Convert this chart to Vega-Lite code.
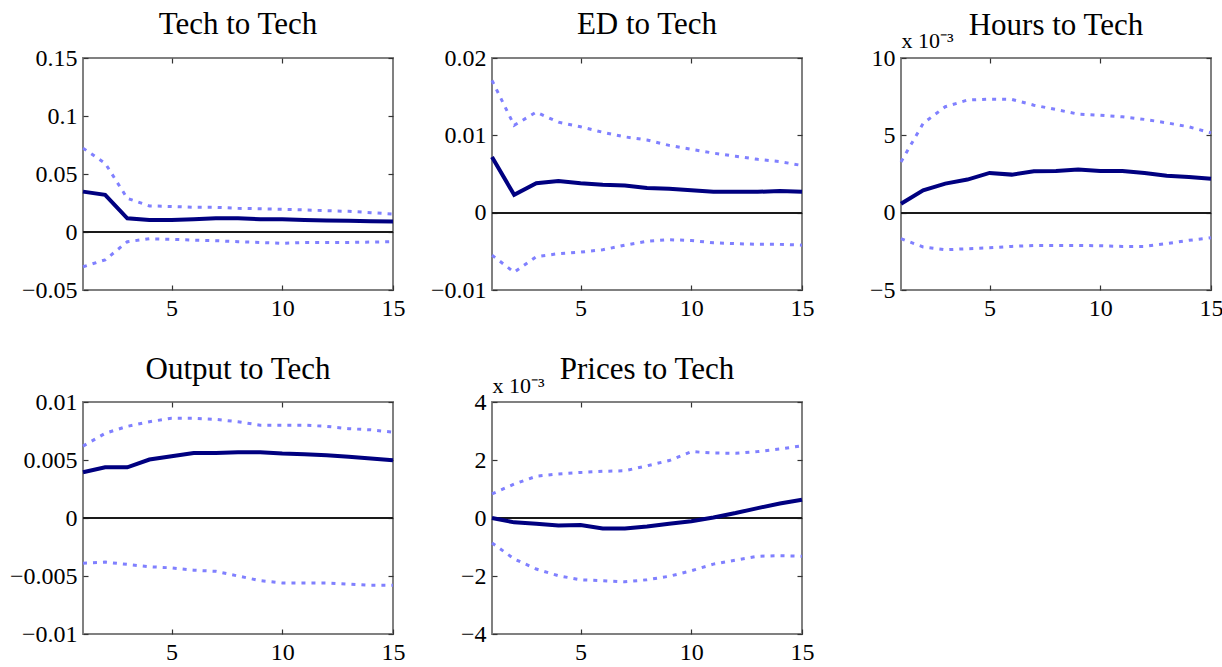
{
  "$schema": "https://vega.github.io/schema/vega-lite/v6.json",
  "background": "white",
  "padding": {"left": 8, "top": 8, "right": 5, "bottom": 5},
  "autosize": {"type": "pad"},
  "config": {
    "font": "Liberation Serif",
    "view": {"stroke": "#808080", "strokeWidth": 2},
    "axis": {"domain": false, "grid": false, "tickSize": -5, "tickColor": "#333333", "tickWidth": 1.2, "labelFontSize": 24, "labelColor": "black", "labelFont": "Liberation Serif", "labelFlush": false, "labelOverlap": false, "labelBound": false, "format": ".6~g", "labelPadding": 11, "title": null},
    "title": {"fontSize": 31, "font": "Liberation Serif", "fontWeight": "normal", "color": "black", "anchor": "middle", "baseline": "alphabetic"}
  },
  "datasets": {
    "irf": [
      {"p": "tech", "h": 1, "est": 0.0348, "lo": -0.030, "hi": 0.0723},
      {"p": "tech", "h": 2, "est": 0.032, "lo": -0.024, "hi": 0.0593},
      {"p": "tech", "h": 3, "est": 0.0118, "lo": -0.0084, "hi": 0.029},
      {"p": "tech", "h": 4, "est": 0.0104, "lo": -0.0058, "hi": 0.0225},
      {"p": "tech", "h": 5, "est": 0.0104, "lo": -0.0063, "hi": 0.022},
      {"p": "tech", "h": 6, "est": 0.011, "lo": -0.007, "hi": 0.0213},
      {"p": "tech", "h": 7, "est": 0.0118, "lo": -0.0075, "hi": 0.0213},
      {"p": "tech", "h": 8, "est": 0.0118, "lo": -0.0084, "hi": 0.0204},
      {"p": "tech", "h": 9, "est": 0.011, "lo": -0.009, "hi": 0.020},
      {"p": "tech", "h": 10, "est": 0.011, "lo": -0.0098, "hi": 0.0196},
      {"p": "tech", "h": 11, "est": 0.0104, "lo": -0.009, "hi": 0.019},
      {"p": "tech", "h": 12, "est": 0.010, "lo": -0.009, "hi": 0.0184},
      {"p": "tech", "h": 13, "est": 0.0098, "lo": -0.009, "hi": 0.0178},
      {"p": "tech", "h": 14, "est": 0.0092, "lo": -0.0087, "hi": 0.0167},
      {"p": "tech", "h": 15, "est": 0.009, "lo": -0.0084, "hi": 0.0155},
      {"p": "ed", "h": 1, "est": 0.0072, "lo": -0.0055, "hi": 0.0171},
      {"p": "ed", "h": 2, "est": 0.0023, "lo": -0.0077, "hi": 0.0113},
      {"p": "ed", "h": 3, "est": 0.0038, "lo": -0.0057, "hi": 0.013},
      {"p": "ed", "h": 4, "est": 0.0041, "lo": -0.0053, "hi": 0.0117},
      {"p": "ed", "h": 5, "est": 0.0038, "lo": -0.0051, "hi": 0.0111},
      {"p": "ed", "h": 6, "est": 0.0036, "lo": -0.0048, "hi": 0.0104},
      {"p": "ed", "h": 7, "est": 0.0035, "lo": -0.0042, "hi": 0.0098},
      {"p": "ed", "h": 8, "est": 0.0032, "lo": -0.0037, "hi": 0.0094},
      {"p": "ed", "h": 9, "est": 0.0031, "lo": -0.0035, "hi": 0.0087},
      {"p": "ed", "h": 10, "est": 0.0029, "lo": -0.0036, "hi": 0.0082},
      {"p": "ed", "h": 11, "est": 0.0027, "lo": -0.0039, "hi": 0.0077},
      {"p": "ed", "h": 12, "est": 0.0027, "lo": -0.004, "hi": 0.0073},
      {"p": "ed", "h": 13, "est": 0.0027, "lo": -0.0041, "hi": 0.0069},
      {"p": "ed", "h": 14, "est": 0.0028, "lo": -0.0041, "hi": 0.0066},
      {"p": "ed", "h": 15, "est": 0.0027, "lo": -0.0042, "hi": 0.0061},
      {"p": "hours", "h": 1, "est": 0.58, "lo": -1.68, "hi": 3.28},
      {"p": "hours", "h": 2, "est": 1.45, "lo": -2.22, "hi": 5.77},
      {"p": "hours", "h": 3, "est": 1.88, "lo": -2.4, "hi": 6.85},
      {"p": "hours", "h": 4, "est": 2.14, "lo": -2.33, "hi": 7.28},
      {"p": "hours", "h": 5, "est": 2.57, "lo": -2.27, "hi": 7.34},
      {"p": "hours", "h": 6, "est": 2.46, "lo": -2.18, "hi": 7.32},
      {"p": "hours", "h": 7, "est": 2.68, "lo": -2.12, "hi": 6.95},
      {"p": "hours", "h": 8, "est": 2.7, "lo": -2.12, "hi": 6.67},
      {"p": "hours", "h": 9, "est": 2.79, "lo": -2.12, "hi": 6.37},
      {"p": "hours", "h": 10, "est": 2.7, "lo": -2.14, "hi": 6.3},
      {"p": "hours", "h": 11, "est": 2.7, "lo": -2.18, "hi": 6.2},
      {"p": "hours", "h": 12, "est": 2.57, "lo": -2.18, "hi": 6.03},
      {"p": "hours", "h": 13, "est": 2.38, "lo": -2.0, "hi": 5.81},
      {"p": "hours", "h": 14, "est": 2.31, "lo": -1.79, "hi": 5.55},
      {"p": "hours", "h": 15, "est": 2.2, "lo": -1.62, "hi": 5.16},
      {"p": "output", "h": 1, "est": 0.00394, "lo": -0.0039, "hi": 0.0062},
      {"p": "output", "h": 2, "est": 0.00437, "lo": -0.0038, "hi": 0.0073},
      {"p": "output", "h": 3, "est": 0.00437, "lo": -0.004, "hi": 0.0079},
      {"p": "output", "h": 4, "est": 0.00504, "lo": -0.0042, "hi": 0.0083},
      {"p": "output", "h": 5, "est": 0.00532, "lo": -0.0043, "hi": 0.0086},
      {"p": "output", "h": 6, "est": 0.00561, "lo": -0.0045, "hi": 0.0086},
      {"p": "output", "h": 7, "est": 0.00561, "lo": -0.0046, "hi": 0.0085},
      {"p": "output", "h": 8, "est": 0.00567, "lo": -0.005, "hi": 0.0083},
      {"p": "output", "h": 9, "est": 0.00567, "lo": -0.0054, "hi": 0.008},
      {"p": "output", "h": 10, "est": 0.00555, "lo": -0.0056, "hi": 0.008},
      {"p": "output", "h": 11, "est": 0.0055, "lo": -0.0056, "hi": 0.008},
      {"p": "output", "h": 12, "est": 0.0054, "lo": -0.0056, "hi": 0.0079},
      {"p": "output", "h": 13, "est": 0.00527, "lo": -0.0057, "hi": 0.0077},
      {"p": "output", "h": 14, "est": 0.00512, "lo": -0.0058, "hi": 0.0076},
      {"p": "output", "h": 15, "est": 0.00498, "lo": -0.0058, "hi": 0.0074},
      {"p": "prices", "h": 1, "est": 0.0, "lo": -0.86, "hi": 0.83},
      {"p": "prices", "h": 2, "est": -0.15, "lo": -1.41, "hi": 1.17},
      {"p": "prices", "h": 3, "est": -0.2, "lo": -1.76, "hi": 1.44},
      {"p": "prices", "h": 4, "est": -0.26, "lo": -1.99, "hi": 1.52},
      {"p": "prices", "h": 5, "est": -0.24, "lo": -2.13, "hi": 1.57},
      {"p": "prices", "h": 6, "est": -0.36, "lo": -2.16, "hi": 1.61},
      {"p": "prices", "h": 7, "est": -0.36, "lo": -2.2, "hi": 1.63},
      {"p": "prices", "h": 8, "est": -0.29, "lo": -2.13, "hi": 1.8},
      {"p": "prices", "h": 9, "est": -0.2, "lo": -2.01, "hi": 1.98},
      {"p": "prices", "h": 10, "est": -0.11, "lo": -1.82, "hi": 2.29},
      {"p": "prices", "h": 11, "est": 0.02, "lo": -1.59, "hi": 2.24},
      {"p": "prices", "h": 12, "est": 0.17, "lo": -1.45, "hi": 2.23},
      {"p": "prices", "h": 13, "est": 0.34, "lo": -1.32, "hi": 2.29},
      {"p": "prices", "h": 14, "est": 0.5, "lo": -1.3, "hi": 2.38},
      {"p": "prices", "h": 15, "est": 0.63, "lo": -1.32, "hi": 2.49}
    ]
  },
  "data": {"name": "irf"},
  "columns": 3,
  "spacing": {"row": 112, "column": 99},
  "bounds": "flush",
  "concat": [
    {
      "title": {"text": "Tech to Tech", "offset": 5},
      "width": 310, "height": 232,
      "transform": [{"filter": "datum.p === 'tech'"}],
      "resolve": {"axis": {"x": "independent", "y": "independent"}},
      "layer": [
        {"mark": {"type": "rule", "color": "#1a1a1a", "strokeWidth": 1.2},
         "encoding": {"y": {"datum": 0, "type": "quantitative", "scale": {"domain": [-0.05, 0.15], "nice": false, "zero": false}, "axis": {"orient": "left", "values": [-0.05, 0, 0.05, 0.1, 0.15]}}}},
        {"mark": {"type": "line", "color": "#000080", "strokeWidth": 4},
         "encoding": {"x": {"field": "h", "type": "quantitative", "scale": {"domain": [1, 15], "nice": false, "zero": false}, "axis": {"orient": "bottom", "values": [5, 10, 15]}},
                      "y": {"field": "est", "type": "quantitative", "scale": {"domain": [-0.05, 0.15], "nice": false, "zero": false}, "axis": {"orient": "right", "values": [-0.05, 0, 0.05, 0.1, 0.15], "labels": false}}}},
        {"mark": {"type": "line", "color": "#8080ff", "strokeWidth": 3, "strokeDash": [4, 6]},
         "encoding": {"x": {"field": "h", "type": "quantitative", "scale": {"domain": [1, 15], "nice": false, "zero": false}, "axis": {"orient": "top", "values": [5, 10], "labels": false}},
                      "y": {"field": "hi", "type": "quantitative", "scale": {"domain": [-0.05, 0.15], "nice": false, "zero": false}, "axis": null}}},
        {"mark": {"type": "line", "color": "#8080ff", "strokeWidth": 3, "strokeDash": [4, 6]},
         "encoding": {"x": {"field": "h", "type": "quantitative", "scale": {"domain": [1, 15], "nice": false, "zero": false}, "axis": null},
                      "y": {"field": "lo", "type": "quantitative", "scale": {"domain": [-0.05, 0.15], "nice": false, "zero": false}, "axis": null}}}
      ]
    },
    {
      "title": {"text": "ED to Tech", "offset": 5},
      "width": 310, "height": 232,
      "transform": [{"filter": "datum.p === 'ed'"}],
      "resolve": {"axis": {"x": "independent", "y": "independent"}},
      "layer": [
        {"mark": {"type": "rule", "color": "#1a1a1a", "strokeWidth": 1.2},
         "encoding": {"y": {"datum": 0, "type": "quantitative", "scale": {"domain": [-0.01, 0.02], "nice": false, "zero": false}, "axis": {"orient": "left", "values": [-0.01, 0, 0.01, 0.02]}}}},
        {"mark": {"type": "line", "color": "#000080", "strokeWidth": 4},
         "encoding": {"x": {"field": "h", "type": "quantitative", "scale": {"domain": [1, 15], "nice": false, "zero": false}, "axis": {"orient": "bottom", "values": [5, 10, 15]}},
                      "y": {"field": "est", "type": "quantitative", "scale": {"domain": [-0.01, 0.02], "nice": false, "zero": false}, "axis": {"orient": "right", "values": [-0.01, 0, 0.01, 0.02], "labels": false}}}},
        {"mark": {"type": "line", "color": "#8080ff", "strokeWidth": 3, "strokeDash": [4, 6]},
         "encoding": {"x": {"field": "h", "type": "quantitative", "scale": {"domain": [1, 15], "nice": false, "zero": false}, "axis": {"orient": "top", "values": [5, 10], "labels": false}},
                      "y": {"field": "hi", "type": "quantitative", "scale": {"domain": [-0.01, 0.02], "nice": false, "zero": false}, "axis": null}}},
        {"mark": {"type": "line", "color": "#8080ff", "strokeWidth": 3, "strokeDash": [4, 6]},
         "encoding": {"x": {"field": "h", "type": "quantitative", "scale": {"domain": [1, 15], "nice": false, "zero": false}, "axis": null},
                      "y": {"field": "lo", "type": "quantitative", "scale": {"domain": [-0.01, 0.02], "nice": false, "zero": false}, "axis": null}}}
      ]
    },
    {
      "title": {"text": "Hours to Tech", "offset": -13},
      "width": 310, "height": 232,
      "transform": [{"filter": "datum.p === 'hours'"}],
      "resolve": {"axis": {"x": "independent", "y": "independent"}},
      "layer": [
        {"mark": {"type": "rule", "color": "#1a1a1a", "strokeWidth": 1.2},
         "encoding": {"y": {"datum": 0, "type": "quantitative", "scale": {"domain": [-5, 10], "nice": false, "zero": false}, "axis": {"orient": "left", "values": [-5, 0, 5, 10], "title": "x 10⁻³", "titleFontSize": 22, "titleFontWeight": "normal", "titleFont": "Liberation Serif", "titleColor": "black", "titleAngle": 0, "titleAlign": "left", "titleBaseline": "alphabetic", "titleX": 0, "titleY": -11}}}},
        {"mark": {"type": "line", "color": "#000080", "strokeWidth": 4},
         "encoding": {"x": {"field": "h", "type": "quantitative", "scale": {"domain": [1, 15], "nice": false, "zero": false}, "axis": {"orient": "bottom", "values": [5, 10, 15]}},
                      "y": {"field": "est", "type": "quantitative", "scale": {"domain": [-5, 10], "nice": false, "zero": false}, "axis": {"orient": "right", "values": [-5, 0, 5, 10], "labels": false}}}},
        {"mark": {"type": "line", "color": "#8080ff", "strokeWidth": 3, "strokeDash": [4, 6]},
         "encoding": {"x": {"field": "h", "type": "quantitative", "scale": {"domain": [1, 15], "nice": false, "zero": false}, "axis": {"orient": "top", "values": [5, 10], "labels": false}},
                      "y": {"field": "hi", "type": "quantitative", "scale": {"domain": [-5, 10], "nice": false, "zero": false}, "axis": null}}},
        {"mark": {"type": "line", "color": "#8080ff", "strokeWidth": 3, "strokeDash": [4, 6]},
         "encoding": {"x": {"field": "h", "type": "quantitative", "scale": {"domain": [1, 15], "nice": false, "zero": false}, "axis": null},
                      "y": {"field": "lo", "type": "quantitative", "scale": {"domain": [-5, 10], "nice": false, "zero": false}, "axis": null}}}
      ]
    },
    {
      "title": {"text": "Output to Tech", "offset": 4},
      "width": 310, "height": 232,
      "transform": [{"filter": "datum.p === 'output'"}],
      "resolve": {"axis": {"x": "independent", "y": "independent"}},
      "layer": [
        {"mark": {"type": "rule", "color": "#1a1a1a", "strokeWidth": 1.2},
         "encoding": {"y": {"datum": 0, "type": "quantitative", "scale": {"domain": [-0.01, 0.01], "nice": false, "zero": false}, "axis": {"orient": "left", "values": [-0.01, -0.005, 0, 0.005, 0.01]}}}},
        {"mark": {"type": "line", "color": "#000080", "strokeWidth": 4},
         "encoding": {"x": {"field": "h", "type": "quantitative", "scale": {"domain": [1, 15], "nice": false, "zero": false}, "axis": {"orient": "bottom", "values": [5, 10, 15]}},
                      "y": {"field": "est", "type": "quantitative", "scale": {"domain": [-0.01, 0.01], "nice": false, "zero": false}, "axis": {"orient": "right", "values": [-0.01, -0.005, 0, 0.005, 0.01], "labels": false}}}},
        {"mark": {"type": "line", "color": "#8080ff", "strokeWidth": 3, "strokeDash": [4, 6]},
         "encoding": {"x": {"field": "h", "type": "quantitative", "scale": {"domain": [1, 15], "nice": false, "zero": false}, "axis": {"orient": "top", "values": [5, 10], "labels": false}},
                      "y": {"field": "hi", "type": "quantitative", "scale": {"domain": [-0.01, 0.01], "nice": false, "zero": false}, "axis": null}}},
        {"mark": {"type": "line", "color": "#8080ff", "strokeWidth": 3, "strokeDash": [4, 6]},
         "encoding": {"x": {"field": "h", "type": "quantitative", "scale": {"domain": [1, 15], "nice": false, "zero": false}, "axis": null},
                      "y": {"field": "lo", "type": "quantitative", "scale": {"domain": [-0.01, 0.01], "nice": false, "zero": false}, "axis": null}}}
      ]
    },
    {
      "title": {"text": "Prices to Tech", "offset": -12},
      "width": 310, "height": 232,
      "transform": [{"filter": "datum.p === 'prices'"}],
      "resolve": {"axis": {"x": "independent", "y": "independent"}},
      "layer": [
        {"mark": {"type": "rule", "color": "#1a1a1a", "strokeWidth": 1.2},
         "encoding": {"y": {"datum": 0, "type": "quantitative", "scale": {"domain": [-4, 4], "nice": false, "zero": false}, "axis": {"orient": "left", "values": [-4, -2, 0, 2, 4], "title": "x 10⁻³", "titleFontSize": 22, "titleFontWeight": "normal", "titleFont": "Liberation Serif", "titleColor": "black", "titleAngle": 0, "titleAlign": "left", "titleBaseline": "alphabetic", "titleX": 0, "titleY": -10}}}},
        {"mark": {"type": "line", "color": "#000080", "strokeWidth": 4},
         "encoding": {"x": {"field": "h", "type": "quantitative", "scale": {"domain": [1, 15], "nice": false, "zero": false}, "axis": {"orient": "bottom", "values": [5, 10, 15]}},
                      "y": {"field": "est", "type": "quantitative", "scale": {"domain": [-4, 4], "nice": false, "zero": false}, "axis": {"orient": "right", "values": [-4, -2, 0, 2, 4], "labels": false}}}},
        {"mark": {"type": "line", "color": "#8080ff", "strokeWidth": 3, "strokeDash": [4, 6]},
         "encoding": {"x": {"field": "h", "type": "quantitative", "scale": {"domain": [1, 15], "nice": false, "zero": false}, "axis": {"orient": "top", "values": [5, 10], "labels": false}},
                      "y": {"field": "hi", "type": "quantitative", "scale": {"domain": [-4, 4], "nice": false, "zero": false}, "axis": null}}},
        {"mark": {"type": "line", "color": "#8080ff", "strokeWidth": 3, "strokeDash": [4, 6]},
         "encoding": {"x": {"field": "h", "type": "quantitative", "scale": {"domain": [1, 15], "nice": false, "zero": false}, "axis": null},
                      "y": {"field": "lo", "type": "quantitative", "scale": {"domain": [-4, 4], "nice": false, "zero": false}, "axis": null}}}
      ]
    }
  ]
}
